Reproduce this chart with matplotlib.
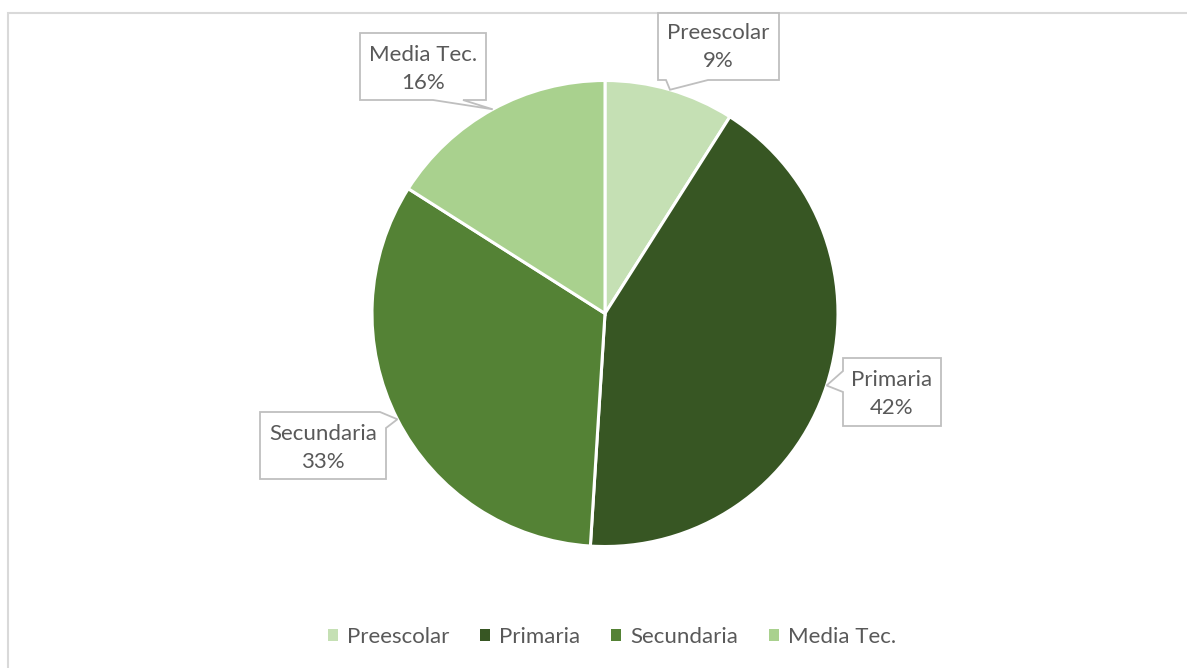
import numpy as np
import matplotlib
matplotlib.use('Agg')
import matplotlib.pyplot as plt
from matplotlib.patches import Polygon, Rectangle

# data
categories = ['Preescolar', 'Primaria', 'Secundaria', 'Media Tec.']
values = [9, 42, 33, 16]
colors = ['#C5E0B4', '#375623', '#548235', '#A9D18E']

W, H = 1187, 668
plt.rcParams['font.family'] = ['Lato', 'DejaVu Sans']
txt_col = '#595959'

fig = plt.figure(figsize=(W / 100, H / 100), dpi=100)
ax = fig.add_axes([0, 0, 1, 1])

# chart border (only top and left visible)
ax.add_patch(Rectangle((8, -20), 1300, H - 13 + 20, fill=False,
                       edgecolor='#D9D9D9', linewidth=1.5))

cx, cy, r = 605, H - 313.5, 233
wedges, _ = ax.pie(values, colors=colors, startangle=90, counterclock=False,
                   center=(cx, cy), radius=r, frame=True,
                   wedgeprops=dict(edgecolor='white', linewidth=2.2))
ax.set_xlim(0, W)
ax.set_ylim(0, H)
ax.set_aspect('auto')
ax.axis('off')

# callout boxes (pixel coords, y down)
def tip_of(i):
    cum = np.cumsum([0] + values) / sum(values)
    mid = (cum[i] + cum[i + 1]) / 2
    ang = np.deg2rad(90 - mid * 360)
    return (cx + r * np.cos(ang), cy + r * np.sin(ang))

boxes = {
    0: dict(pts=[(658, 13), (779, 13), (779, 80), (708, 80), 'T', (666, 80), (658, 80)], c=(718, 47)),
    1: dict(pts=[(843, 358), (941, 358), (941, 426), (843, 426), (843, 392), 'T', (843, 371)], c=(892, 394)),
    2: dict(pts=[(260, 412), (380, 412), 'T', (386, 428), (386, 479), (260, 479)], c=(323, 448)),
    3: dict(pts=[(360, 33), (486, 33), (486, 100), (463, 100), 'T', (433, 100), (360, 100)], c=(423, 69)),
}
for i, b in boxes.items():
    verts = []
    for p in b['pts']:
        if p == 'T':
            verts.append(tip_of(i))
        else:
            verts.append((p[0], H - p[1]))
    ax.add_patch(Polygon(verts, closed=True, facecolor='white',
                         edgecolor='#BFBFBF', linewidth=1.3, zorder=5))
    ax.text(b['c'][0], H - b['c'][1], f"{categories[i]}\n{values[i]}%",
            ha='center', va='center', fontsize=16, color=txt_col,
            linespacing=1.55, zorder=6)

# legend
handles = [Rectangle((0, 0), 1, 1, facecolor=c, edgecolor='none') for c in colors]
fig.legend(handles, categories, loc='center', bbox_to_anchor=(612 / W, 1 - 637 / H),
           ncol=4, frameon=False, fontsize=16, labelcolor=txt_col,
           handlelength=0.45, handleheight=0.45, handletextpad=0.4,
           columnspacing=1.4)

fig.savefig('out.png', dpi=100)
